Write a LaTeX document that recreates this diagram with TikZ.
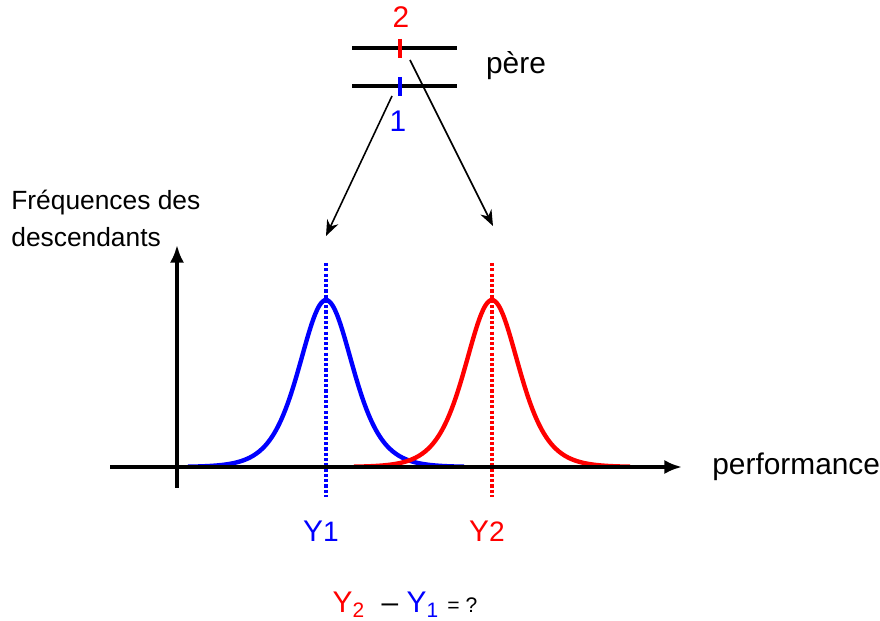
\documentclass[tikz,border=0pt]{standalone}
\usepackage{fontspec}
\setmainfont{Liberation Sans}
\usetikzlibrary{arrows.meta}
\tikzset{lbl/.style={inner sep=0pt, font=\fontsize{15}{18}\selectfont},
  big/.style={inner sep=0pt, font=\fontsize{17}{20}\selectfont},
  chrom/.style={line width=2.1pt},
  courbe/.style={line width=2.5pt, smooth, samples=90},
  repere/.style={line width=1.8pt, dash pattern=on 1.8pt off 1.2pt},
  fleche/.style={-{Stealth[length=9pt,width=7pt]}, line width=0.9pt},
  axe/.style={line width=2pt, -{Latex[length=10pt,width=8pt]}}}

\begin{document}
\begin{tikzpicture}[x=0.02cm, y=-0.02cm]
\path[use as bounding box] (0,0) rectangle (880,621);
% pere
\draw[chrom] (352,48) -- (457,48); \draw[chrom] (352,86) -- (457,86);
\draw[red, chrom] (400,39) -- (400,58); \draw[blue, chrom] (400,77) -- (400,96);
\node[big, text=red] (n2) at (401,17) {2};
\node[big, text=blue] (n1) at (398,121) {1};
\node[big] (pere) at (516,66) {père};
\coordinate (d1) at (392,96); \coordinate (d2) at (410,60);
% courbes
\foreach \m/\c/\k in {326/blue/1, 492/red/2} {
\draw[courbe, \c, domain=\m-138:\m+138] plot ({\x}, {467-668/(exp((\x-\m)/36)+exp(-(\x-\m)/36))^2});
\draw[repere, \c] (\m,263) -- (\m,497);
\node[big, text=\c] (y\k) at (\m-5,531) {Y{\fontsize{16}{19}\selectfont\k}};
}
\coordinate (t1) at (326,236); \coordinate (t2) at (493,226);
\draw[fleche] (d1) -- (t1);
\draw[fleche] (d2) -- (t2);
% axes
\draw[axe] (110,467) -- (682,467);
\draw[axe] (177,488) -- (177,245);
\node[lbl, anchor=west] (freq) at (11,203) {Fréquences des};
\node[lbl, anchor=west] (desc) at (11,237) {descendants};
\node[big, anchor=west] (perf) at (712,467) {performance};
\node[big] (diff) at (405,605) {\textcolor{red}{Y\textsubscript{2}}\ \ – \textcolor{blue}{Y\textsubscript{1}}\ {\fontsize{12}{14}\selectfont = ?}};
\end{tikzpicture}
\end{document}
